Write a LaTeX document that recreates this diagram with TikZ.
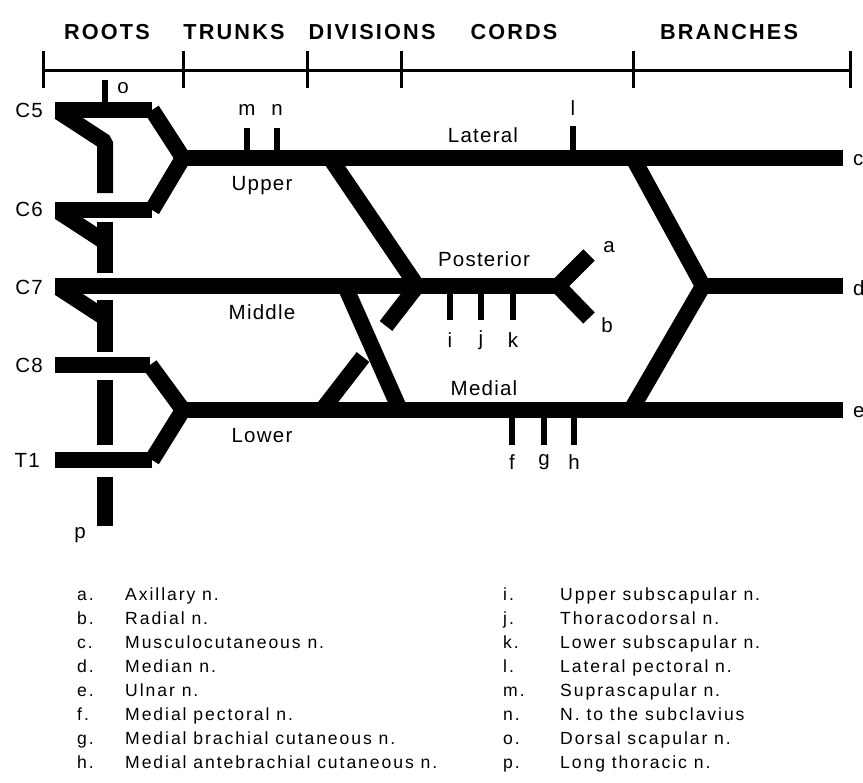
\documentclass[tikz,border=0pt]{standalone}
\usepackage{fontspec}
\setmainfont{Liberation Sans}
\newfontfamily\headfont[LetterSpace=10]{Liberation Sans}
\newfontfamily\labfont[LetterSpace=6]{Liberation Sans}
\newfontfamily\keyfont[LetterSpace=11]{Liberation Sans}

\begin{document}
\begin{tikzpicture}[x=0.03cm,y=-0.03cm,inner sep=0pt,
  nerve/.style={line width=0.48cm},
  twig/.style={line width=0.17cm},
  scalebar/.style={line width=0.09cm},
  head/.style={font=\headfont\bfseries\fontsize{18.5}{21}\selectfont},
  lab/.style={font=\labfont\fontsize{17.5}{20}\selectfont},
  key/.style={font=\keyfont\fontsize{15}{17}\selectfont,anchor=base west}]
\useasboundingbox (0,0) rectangle (863,783);

\node[head] (roots) at (107,32) {ROOTS};
\node[head] (trunks) at (234,32) {TRUNKS};
\node[head] (divs) at (372,32) {DIVISIONS};
\node[head] (cords) at (514,32) {CORDS};
\node[head] (brs) at (729,32) {BRANCHES};

\coordinate (s0) at (43,70);
\coordinate (s1) at (183,70);
\coordinate (s2) at (307,70);
\coordinate (s3) at (401,70);
\coordinate (s4) at (633,70);
\coordinate (s5) at (850,70);
\draw[scalebar] (s0) -- (s5);
\draw[scalebar] (s0) ++(0,-19) -- ++(0,37);
\draw[scalebar] (s1) ++(0,-19) -- ++(0,37);
\draw[scalebar] (s2) ++(0,-19) -- ++(0,37);
\draw[scalebar] (s3) ++(0,-19) -- ++(0,37);
\draw[scalebar] (s4) ++(0,-19) -- ++(0,37);
\draw[scalebar] (s5) ++(0,-19) -- ++(0,37);

% roots
\coordinate (c5a) at (55,110);  \coordinate (c5b) at (152,110);
\coordinate (c6a) at (55,210);  \coordinate (c6b) at (152,210);
\coordinate (c7a) at (55,286);
\coordinate (c8a) at (55,365);  \coordinate (c8b) at (150,365);
\coordinate (t1a) at (55,460);  \coordinate (t1b) at (152,460);
\coordinate (up) at (183,158);
\coordinate (lo) at (183,410);
\coordinate (upe) at (843,158);
\coordinate (loe) at (843,410);

\coordinate (c5s) at (59,112); \coordinate (lt5) at (105,142); \coordinate (lt5e) at (105,193);
\coordinate (c6s) at (59,212); \coordinate (lt6) at (105,242);
\coordinate (lt6t) at (105,222); \coordinate (lt6e) at (105,273);
\coordinate (c7s) at (59,288); \coordinate (lt7) at (105,318);
\coordinate (lt7t) at (105,300); \coordinate (lt7e) at (105,352);
\coordinate (lt8t) at (105,380); \coordinate (lt8e) at (105,445);
\coordinate (ltpt) at (105,477); \coordinate (ltpe) at (105,526);

\draw[nerve] (c5a) -- (c5b);
\draw[nerve] (c6a) -- (c6b);
\draw[nerve] (c8a) -- (c8b);
\draw[nerve] (t1a) -- (t1b);
\draw[nerve,line join=bevel] (c5s) -- (lt5) -- (lt5e);
\draw[nerve] (c6s) -- (lt6);
\draw[nerve] (lt6t) -- (lt6e);
\draw[nerve] (c7s) -- (lt7);
\draw[nerve] (lt7t) -- (lt7e);
\draw[nerve] (lt8t) -- (lt8e);
\draw[nerve] (ltpt) -- (ltpe);
\draw[nerve] (c5b) -- (up) -- (c6b);
\draw[nerve] (c8b) -- (lo) -- (t1b);

% trunks, divisions, cords
\coordinate (udiv) at (330,158); \coordinate (pj) at (417,286); \coordinate (pl) at (386,326);
\coordinate (ldiv) at (322,410); \coordinate (ldive) at (363,357);
\coordinate (mdiv) at (345,286); \coordinate (mdive) at (400,410);
\coordinate (py) at (558,286); \coordinate (pa) at (589,255); \coordinate (pb) at (589,318);
\coordinate (lat) at (633,158); \coordinate (dj) at (703,286); \coordinate (med) at (631,410);
\coordinate (de) at (843,286);

\draw[nerve] (up) -- (upe);
\draw[nerve] (lo) -- (loe);
\draw[nerve] (c7a) -- (py);
\draw[nerve] (udiv) -- (pj) -- (pl);
\draw[nerve] (ldiv) -- (ldive);
\draw[nerve] (mdiv) -- (mdive);
\draw[nerve] (pa) -- (py) -- (pb);
\draw[nerve] (lat) -- (dj) -- (med);
\draw[nerve] (dj) -- (de);

% small branches
\coordinate (bo) at (105,110);
\coordinate (bm) at (247,158);
\coordinate (bn) at (277,158);
\coordinate (bl) at (573,158);
\coordinate (bi) at (450,286);
\coordinate (bj) at (481,286);
\coordinate (bk) at (513,286);
\coordinate (bf) at (512,410);
\coordinate (bg) at (544,410);
\coordinate (bh) at (574,410);
\draw[twig] (bo) -- ++(0,-30);
\draw[twig] (bm) -- ++(0,-30);
\draw[twig] (bn) -- ++(0,-30);
\draw[twig] (bl) -- ++(0,-32);
\draw[twig] (bi) -- ++(0,34);
\draw[twig] (bj) -- ++(0,34);
\draw[twig] (bk) -- ++(0,34);
\draw[twig] (bf) -- ++(0,35);
\draw[twig] (bg) -- ++(0,35);
\draw[twig] (bh) -- ++(0,35);

\node[lab,anchor=east] (lc5) at (43,110) {C5};
\node[lab,anchor=east] (lc6) at (43,209) {C6};
\node[lab,anchor=east] (lc7) at (43,287) {C7};
\node[lab,anchor=east] (lc8) at (43,365) {C8};
\node[lab,anchor=east] (lt1) at (40,460) {T1};

\node[lab] (lupper) at (262,186) {Upper};
\node[lab] (lmiddle) at (262,312) {Middle};
\node[lab] (llower) at (262,436) {Lower};
\node[lab] (llat) at (483,135) {Lateral};
\node[lab] (lpost) at (484,259) {Posterior};
\node[lab] (lmed) at (484,388) {Medial};

\node[lab] (na) at (609,247) {a};
\node[lab] (nb) at (607,325) {b};
\node[lab,anchor=west] (nc) at (853,160) {c};
\node[lab,anchor=west] (nd) at (853,288) {d};
\node[lab,anchor=west] (ne) at (853,412) {e};
\node[lab] (nf) at (512,462) {f};
\node[lab] (ng) at (544,462) {g};
\node[lab] (nh) at (574,462) {h};
\node[lab] (ni) at (450,340) {i};
\node[lab] (nj) at (481,340) {j};
\node[lab] (nk) at (513,340) {k};
\node[lab] (nl) at (573,108) {l};
\node[lab] (nm) at (247,110) {m};
\node[lab] (nn) at (277,110) {n};
\node[lab] (no) at (123,88) {o};
\node[lab] (np) at (80,535) {p};

% key
\node[key] (ka) at (77,600) {a.};  \node[key] (ta) at (125,600) {Axillary n.};
\node[key] (kb) at (77,624) {b.};  \node[key] (tb) at (125,624) {Radial n.};
\node[key] (kc) at (77,648) {c.};  \node[key] (tc) at (125,648) {Musculocutaneous n.};
\node[key] (kd) at (77,672) {d.};  \node[key] (td) at (125,672) {Median n.};
\node[key] (ke) at (77,696) {e.};  \node[key] (te) at (125,696) {Ulnar n.};
\node[key] (kf) at (77,720) {f.};  \node[key] (tf) at (125,720) {Medial pectoral n.};
\node[key] (kg) at (77,744) {g.};  \node[key] (tg) at (125,744) {Medial brachial cutaneous n.};
\node[key] (kh) at (77,768) {h.};  \node[key] (th) at (125,768) {Medial antebrachial cutaneous n.};
\node[key] (ki) at (503,600) {i.};  \node[key] (ti) at (560,600) {Upper subscapular n.};
\node[key] (kj) at (503,624) {j.};  \node[key] (tj) at (560,624) {Thoracodorsal n.};
\node[key] (kk) at (503,648) {k.};  \node[key] (tk) at (560,648) {Lower subscapular n.};
\node[key] (kl) at (503,672) {l.};  \node[key] (tl) at (560,672) {Lateral pectoral n.};
\node[key] (km) at (503,696) {m.};  \node[key] (tm) at (560,696) {Suprascapular n.};
\node[key] (kn) at (503,720) {n.};  \node[key] (tn) at (560,720) {N. to the subclavius};
\node[key] (ko) at (503,744) {o.};  \node[key] (to) at (560,744) {Dorsal scapular n.};
\node[key] (kp) at (503,768) {p.};  \node[key] (tp) at (560,768) {Long thoracic n.};
\end{tikzpicture}
\end{document}
